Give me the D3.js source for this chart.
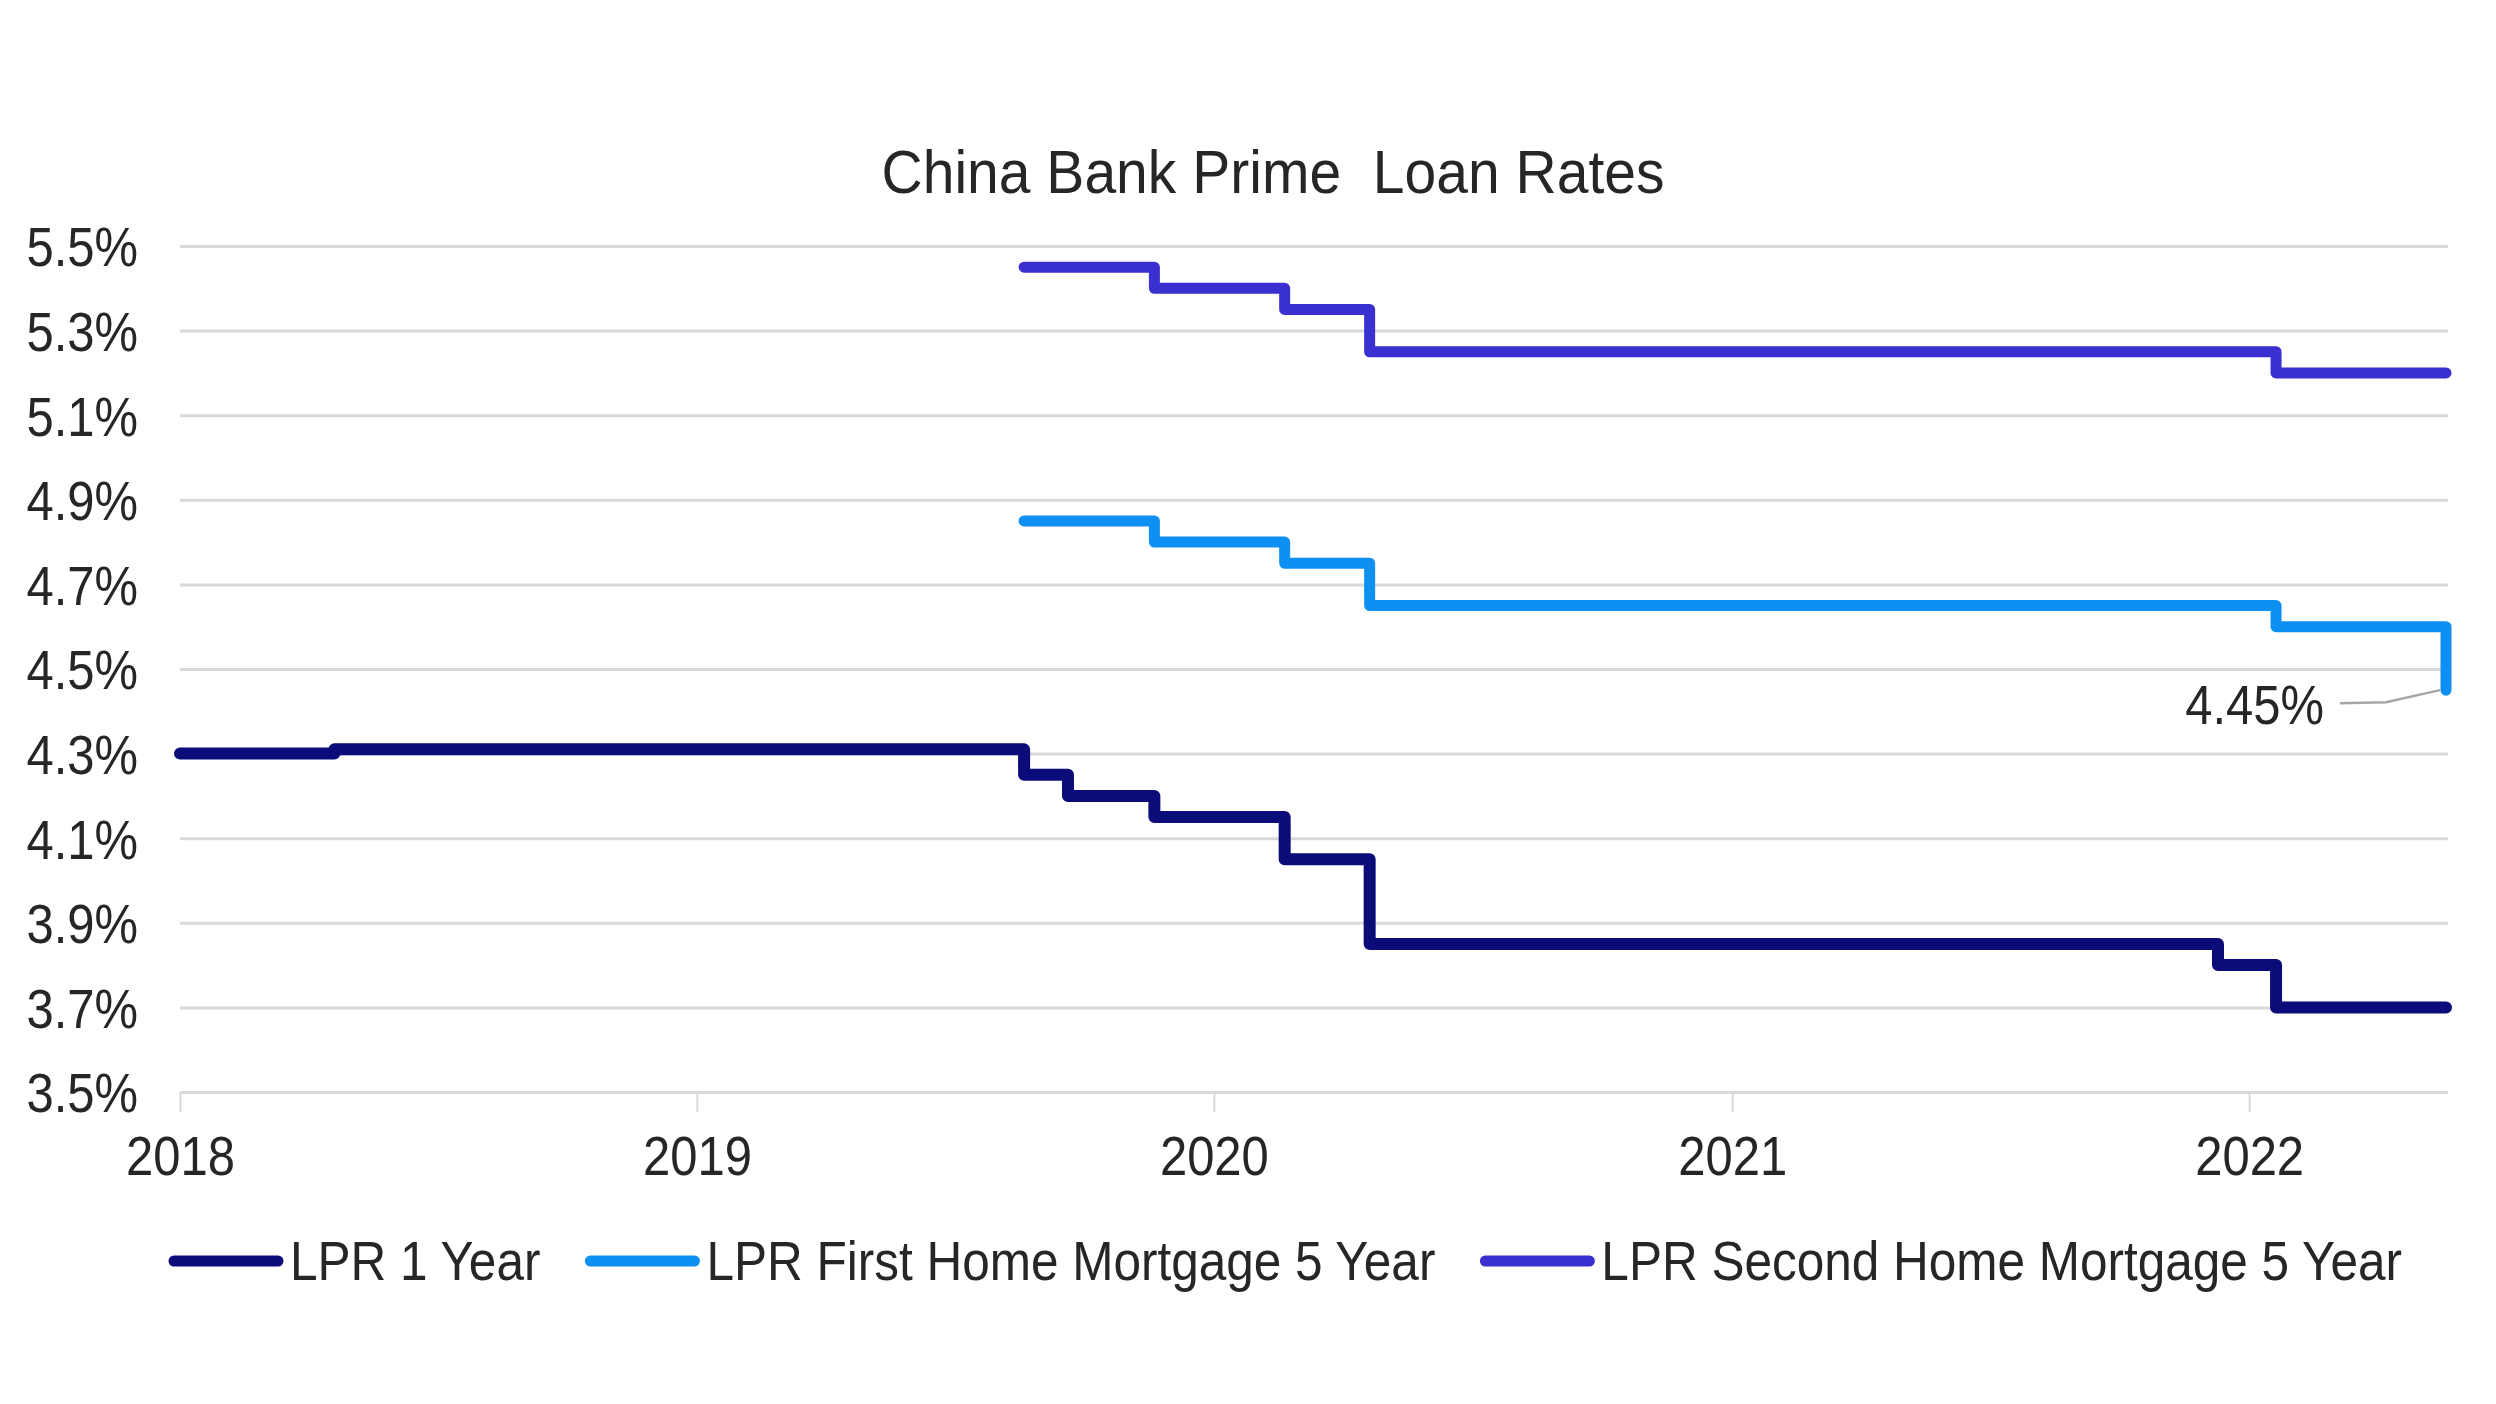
<!DOCTYPE html>
<html>
<head>
<meta charset="utf-8">
<script src="https://cdn.jsdelivr.net/npm/d3@7"></script>
<style>
  html, body { margin: 0; padding: 0; background: #ffffff; }
  svg { display: block; }
  text { font-family: "Liberation Sans", Arial, sans-serif; fill: #262626; }
</style>
</head>
<body>
<svg id="chart" width="2496" height="1404"></svg>
<script>
// ---- data ----
const title = "China Bank Prime  Loan Rates";
const seriesNames = ["LPR 1 Year", "LPR First Home Mortgage 5 Year", "LPR Second Home Mortgage 5 Year"];
const dates1Y = ["2018-01-01","2018-04-20","2019-08-20","2019-09-20","2019-11-20","2020-02-20","2020-04-20","2021-12-10","2022-01-20","2022-05-20"];
const lpr1Y = [4.30, 4.31, 4.25, 4.20, 4.15, 4.05, 3.85, 3.80, 3.70, 3.70];
const dates5Y = ["2019-08-20","2019-11-20","2020-02-20","2020-04-20","2022-01-20","2022-05-20"];
const lprFirstHome = [4.85, 4.80, 4.75, 4.65, 4.60, 4.45];
const lprSecondHome = [5.45, 5.40, 5.35, 5.25, 5.20, 5.20];
const yTicks = [3.5, 3.7, 3.9, 4.1, 4.3, 4.5, 4.7, 4.9, 5.1, 5.3, 5.5];
const xTickYears = ["2018-01-01","2019-01-01","2020-01-01","2021-01-01","2022-01-01"];
const annotationLabel = "4.45%";

(function () {
// ---- setup ----
const parse = d3.timeParse("%Y-%m-%d");
const colors = ["#0b0b7a", "#0e90f2", "#3a2fcf"];
const svg = d3.select("#chart");
const plotLeft = 180, plotRight = 2448, plotTop = 246, plotBottom = 1092;
const SX = 0.89; // horizontal text compression of the reference

const x = d3.scaleTime().domain([parse("2018-01-01"), parse("2022-05-20")]).range([plotLeft, plotRight - 2]);
const y = d3.scaleLinear().domain([3.5, 5.5]).range([plotBottom, plotTop]);

// gridlines + y labels
const yAxis = d3.axisLeft(y).tickValues(yTicks)
  .tickSize(-(plotRight - plotLeft)).tickPadding(0)
  .tickFormat(d => d3.format(".1f")(d) + "%");
const gy = svg.append("g").attr("transform", `translate(${plotLeft},0)`).call(yAxis);
gy.select(".domain").remove();
gy.selectAll(".tick line").attr("stroke", "#d9d9d9").attr("stroke-width", 3);
gy.selectAll(".tick text")
  .attr("font-size", 55).attr("fill", "#262626")
  .attr("x", -42 / SX).attr("dy", "0.36em")
  .attr("transform", `scale(${SX},1)`)
  .style("font-family", "'Liberation Sans', Arial, sans-serif");

// x axis ticks + labels
const xAxis = d3.axisBottom(x).tickValues(xTickYears.map(parse))
  .tickSize(20).tickPadding(0).tickFormat(d3.timeFormat("%Y"));
const gx = svg.append("g").attr("transform", `translate(0,${plotBottom})`).call(xAxis);
gx.select(".domain").remove();
gx.selectAll(".tick line").attr("stroke", "#d9d9d9").attr("stroke-width", 2);
gx.selectAll(".tick text")
  .attr("font-size", 55).attr("fill", "#262626")
  .attr("y", 83).attr("dy", 0)
  .attr("transform", `scale(${SX},1)`)
  .style("font-family", "'Liberation Sans', Arial, sans-serif");

// title
svg.append("text")
  .attr("transform", `translate(1273,193) scale(0.92,1)`)
  .attr("text-anchor", "middle").attr("font-size", 62)
  .style("white-space", "pre")
  .text(title);

// lines
const line = d3.line().x(d => x(d.date)).y(d => y(d.value)).curve(d3.curveStepAfter);
const series = [
  dates1Y.map((d, i) => ({date: parse(d), value: lpr1Y[i]})),
  dates5Y.map((d, i) => ({date: parse(d), value: lprFirstHome[i]})),
  dates5Y.map((d, i) => ({date: parse(d), value: lprSecondHome[i]}))
];
const widths = [12, 11, 11];
series.forEach((s, i) => {
  svg.append("path").datum(s)
    .attr("d", line)
    .attr("fill", "none")
    .attr("stroke", colors[i])
    .attr("stroke-width", widths[i])
    .attr("stroke-linejoin", "round")
    .attr("stroke-linecap", "round");
});

// annotation for last first-home value
const lastFirst = series[1][series[1].length - 1];
const ax = x(lastFirst.date), ay = y(lastFirst.value);
svg.append("path")
  .attr("d", d3.line()([[ax - 106, ay + 13], [ax - 60, ay + 12], [ax - 6, ay]]))
  .attr("fill", "none").attr("stroke", "#a6a6a6").attr("stroke-width", 2.5);
svg.append("text")
  .attr("transform", `translate(${ax - 122},${ay + 34}) scale(${SX},1)`)
  .attr("text-anchor", "end").attr("font-size", 55)
  .text(annotationLabel);

// legend
const legend = svg.append("g");
let lx = 170;
const ly = 1261;
seriesNames.forEach((name, i) => {
  legend.append("line")
    .attr("x1", lx + 4).attr("x2", lx + 108).attr("y1", ly).attr("y2", ly)
    .attr("stroke", colors[i]).attr("stroke-width", 11).attr("stroke-linecap", "round");
  const t = legend.append("text")
    .attr("transform", `translate(${lx + 120},${ly + 19}) scale(${SX + 0.01},1)`)
    .attr("font-size", 55)
    .text(name);
  const w = t.node().getComputedTextLength() * (SX + 0.01);
  lx = lx + 120 + w + 46;
});
})();
</script>
</body>
</html>
